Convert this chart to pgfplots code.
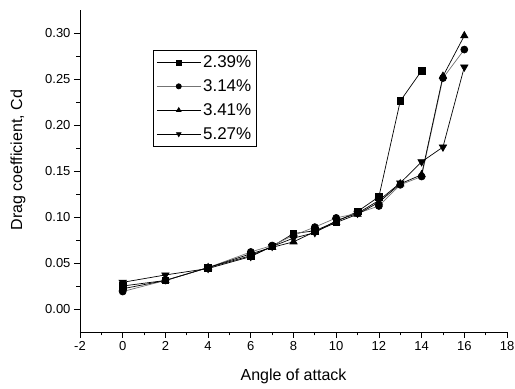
\documentclass[border=0pt]{standalone}
\usepackage{fontspec}
\setmainfont{Liberation Sans}
\usepackage{pgfplots}
\pgfplotsset{compat=1.18}
\begin{document}
\begin{tikzpicture}
\begin{axis}[
  scale only axis, width=427bp, height=322bp,
  xmin=-2, xmax=18, ymin=-0.025, ymax=0.325,
  axis x line*=bottom, axis y line*=left,
  axis line style={-, line width=0.8pt},
  tick align=outside, tick style={black, line width=0.8pt},
  major tick length=6bp, minor tick length=3.5bp,
  xtick={-2,0,...,18}, ytick={0,0.05,...,0.30},
  minor x tick num=1, minor y tick num=1,
  yticklabel style={/pgf/number format/.cd, fixed, fixed zerofill, precision=2},
  /pgf/number format/assume math mode=true,
  ticklabel style={font=\fontsize{13bp}{15bp}\selectfont},
  xlabel={Angle of attack}, ylabel={Drag coefficient, Cd},
  label style={font=\fontsize{16bp}{18bp}\selectfont},
  xlabel style={at={(axis description cs:0.5,0)}, anchor=center, yshift=-44bp},
  ylabel style={at={(axis description cs:-0.145,0.534)}, anchor=center},
  legend style={at={(rel axis cs:0.171,0.876)}, anchor=north west, draw=black, line width=0.8pt,
    font=\fontsize{17bp}{19bp}\selectfont, row sep=6.5bp, inner xsep=3bp, inner ysep=3.5bp},
  legend cell align=left,
  legend image code/.code={\draw[mark repeat=2,mark phase=2, mark size=2.6bp] plot coordinates {(0bp,0bp) (22bp,0bp) (44bp,0bp)};},
  every axis plot/.append style={line width=0.7pt, mark options={solid, fill=black, draw=black}},
  clip=false,
]
\addplot[black, mark=square*, mark size=3.3bp] coordinates {
(0,0.025) (2,0.031) (4,0.045) (6,0.058) (7,0.068) (8,0.082) (9,0.085) (10,0.095) (11,0.106) (12,0.122) (13,0.226) (14,0.259)};
\addlegendentry{2.39\%}
\addplot[black!55, mark=*, mark size=3.5bp] coordinates {
(0,0.019) (2,0.031) (4,0.045) (6,0.062) (7,0.069) (8,0.080) (9,0.089) (10,0.099) (11,0.104) (12,0.112) (13,0.135) (14,0.144) (15,0.251) (16,0.282)};
\addlegendentry{3.14\%}
\addplot[black, mark=triangle*, mark size=4.2bp] coordinates {
(0,0.022) (2,0.031) (4,0.045) (6,0.060) (7,0.067) (8,0.073) (9,0.084) (10,0.094) (11,0.103) (12,0.116) (13,0.136) (14,0.146) (15,0.253) (16,0.297)};
\addlegendentry{3.41\%}
\addplot[black, mark=triangle*, mark size=4.2bp, mark options={rotate=180}] coordinates {
(0,0.029) (2,0.037) (4,0.044) (6,0.057) (7,0.068) (8,0.077) (9,0.083) (10,0.096) (11,0.104) (12,0.118) (13,0.137) (14,0.160) (15,0.176) (16,0.263)};
\addlegendentry{5.27\%}
\coordinate (O) at (rel axis cs:0,0);
\coordinate (T) at (rel axis cs:1,1);
\end{axis}
\pgfresetboundingbox
\path[use as bounding box] ([shift={(-80bp,-57bp)}]O) rectangle ([shift={(8bp,10bp)}]T);
\end{tikzpicture}
\end{document}
